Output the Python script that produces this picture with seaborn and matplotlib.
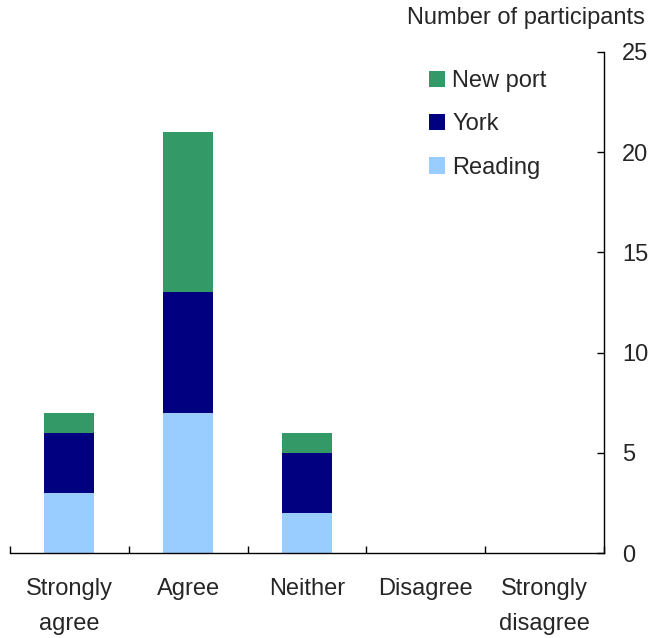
import matplotlib
matplotlib.use("Agg")
import matplotlib.pyplot as plt
import seaborn as sns
import pandas as pd
import numpy as np
from matplotlib.patches import Patch

categories = ["Strongly\nagree", "Agree", "Neither", "Disagree", "Strongly\ndisagree"]
reading = [3, 7, 2, 0, 0]
york = [3, 6, 3, 0, 0]
newport = [1, 8, 1, 0, 0]
series_names = ["New port", "York", "Reading"]
colors = {"New port": "#339966", "York": "#000080", "Reading": "#99CCFF"}
yticks = [0, 5, 10, 15, 20, 25]

sns.set_style("white")
plt.rcParams["font.family"] = ["Liberation Sans", "DejaVu Sans"]

df = pd.DataFrame({"cat": categories, "Reading": reading, "York": york, "New port": newport})
df["c_reading"] = df["Reading"]
df["c_york"] = df["Reading"] + df["York"]
df["c_newport"] = df["c_york"] + df["New port"]

fig = plt.figure(figsize=(6.52, 6.38), dpi=100)
ax = fig.add_axes([10 / 652, 1 - 553 / 638, 594 / 652, 501 / 638])

for col, name in [("c_newport", "New port"), ("c_york", "York"), ("c_reading", "Reading")]:
    sns.barplot(data=df, x="cat", y=col, order=categories, color=colors[name],
                width=0.42, saturation=1, ax=ax, errorbar=None, linewidth=0)

ax.set_xlim(-0.5, 4.5)
ax.set_ylim(0, 25)
ax.set_xlabel("")
ax.set_ylabel("")

for s in ["top", "left"]:
    ax.spines[s].set_visible(False)
for s in ["right", "bottom"]:
    ax.spines[s].set_visible(True)
    ax.spines[s].set_color("black")
    ax.spines[s].set_linewidth(1.0)

FS = 17

ax.yaxis.tick_right()
ax.set_yticks(yticks)
ax.set_yticklabels([str(v) for v in yticks], fontsize=FS)
ax.tick_params(axis="y", which="major", direction="in", length=5, width=1, color="black",
               right=True, left=False, pad=13)

ax.set_xticks(np.arange(-0.5, 5, 1.0))
ax.set_xticklabels([""] * 6)
ax.set_xticks(np.arange(0, 5), minor=True)
ax.set_xticklabels(categories, minor=True, fontsize=FS, linespacing=1.75)
ax.tick_params(axis="x", which="major", direction="in", length=5, width=1, color="black", bottom=True)
ax.tick_params(axis="x", which="minor", length=0, pad=18)

handles = [Patch(facecolor=colors[n], edgecolor="none", label=n) for n in series_names]
ax.legend(handles=handles, loc="upper left", bbox_to_anchor=(0.705, 0.964), frameon=False,
          fontsize=FS, handlelength=0.7, handleheight=0.7, handletextpad=0.3,
          labelspacing=0.9, borderpad=0, borderaxespad=0)

fig.text(645 / 652, 1 - 18 / 638, "Number of participants", ha="right", va="center", fontsize=FS)

fig.savefig("out.png", dpi=100)
